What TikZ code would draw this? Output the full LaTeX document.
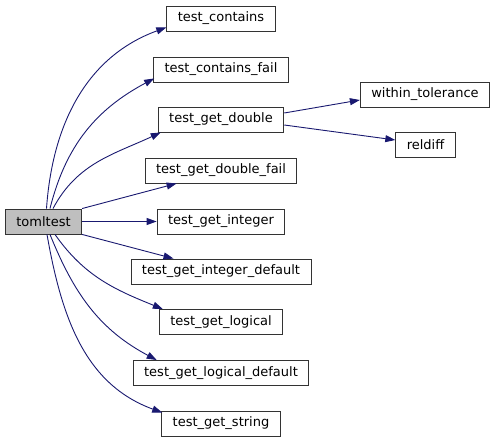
\documentclass[tikz,border=0pt]{standalone}
\usepackage{xcolor}
\usepackage{fontspec}
\usepackage{tikz}
\usetikzlibrary{arrows.meta}
\setmainfont{DejaVu Sans}
\definecolor{edgeblue}{RGB}{25,25,112}
\tikzstyle{fnbox} = [draw=black!80, line width=0.9pt, rectangle, inner xsep=11pt, minimum height=25pt, fill=white, font=\fontsize{13}{15}\selectfont]
\tikzstyle{rootbox} = [fnbox, fill=black!25]
\tikzstyle{call} = [draw=edgeblue, line width=0.9pt, -{Triangle[length=10pt,width=7pt]}]

\begin{document}
\begin{tikzpicture}[x=1pt,y=-1pt]
    \useasboundingbox (0,0) rectangle (496,443);
    %nodi
    \node [rootbox] (tomltest) at (43.5,221.5) {tomltest};
    \node [fnbox] (test_contains) at (221,18.5) {test\_contains};
    \node [fnbox] (test_contains_fail) at (221,69.5) {test\_contains\_fail};
    \node [fnbox] (test_get_double) at (221,119.5) {test\_get\_double};
    \node [fnbox] (test_get_double_fail) at (221,170.5) {test\_get\_double\_fail};
    \node [fnbox] (test_get_integer) at (221,221.5) {test\_get\_integer};
    \node [fnbox] (test_get_integer_default) at (221,271.5) {test\_get\_integer\_default};
    \node [fnbox] (test_get_logical) at (221,322) {test\_get\_logical};
    \node [fnbox] (test_get_logical_default) at (221,373) {test\_get\_logical\_default};
    \node [fnbox] (test_get_string) at (221,423.5) {test\_get\_string};
    \node [fnbox] (within_tolerance) at (425,94.5) {within\_tolerance};
    \node [fnbox] (reldiff) at (425.5,144.5) {reldiff};

    %archi
    \draw [call] ([xshift=3pt]tomltest.north) to[out=86,in=200] ([yshift=4pt]test_contains.south west);
    \draw [call] ([xshift=6.5pt]tomltest.north) to[out=76,in=208] ([xshift=1pt,yshift=4pt]test_contains_fail.south west);
    \draw [call] ([xshift=9.5pt]tomltest.north) to[out=62,in=205] ([xshift=3pt]test_get_double.south west);
    \draw [call] (tomltest.north east) -- ([xshift=32pt]test_get_double_fail.south west);
    \draw [call] (tomltest) -- (test_get_integer);
    \draw [call] (tomltest.south east) -- ([xshift=43pt]test_get_integer_default.north west);
    \draw [call] ([xshift=11.5pt]tomltest.south) to[out=-55,in=158] ([xshift=4pt]test_get_logical.north west);
    \draw [call] ([xshift=6.5pt]tomltest.south) to[out=-68,in=152] ([xshift=24pt]test_get_logical_default.north west);
    \draw [call] ([xshift=3.5pt]tomltest.south) to[out=-80,in=160] ([xshift=1pt,yshift=-2pt]test_get_string.north west);
    \draw [call] ([yshift=6.5pt]test_get_double.east) -- ([yshift=-5.5pt]within_tolerance.west);
    \draw [call] ([yshift=-5.5pt]test_get_double.east) -- ([yshift=4.5pt]reldiff.west);
\end{tikzpicture}
\end{document}
